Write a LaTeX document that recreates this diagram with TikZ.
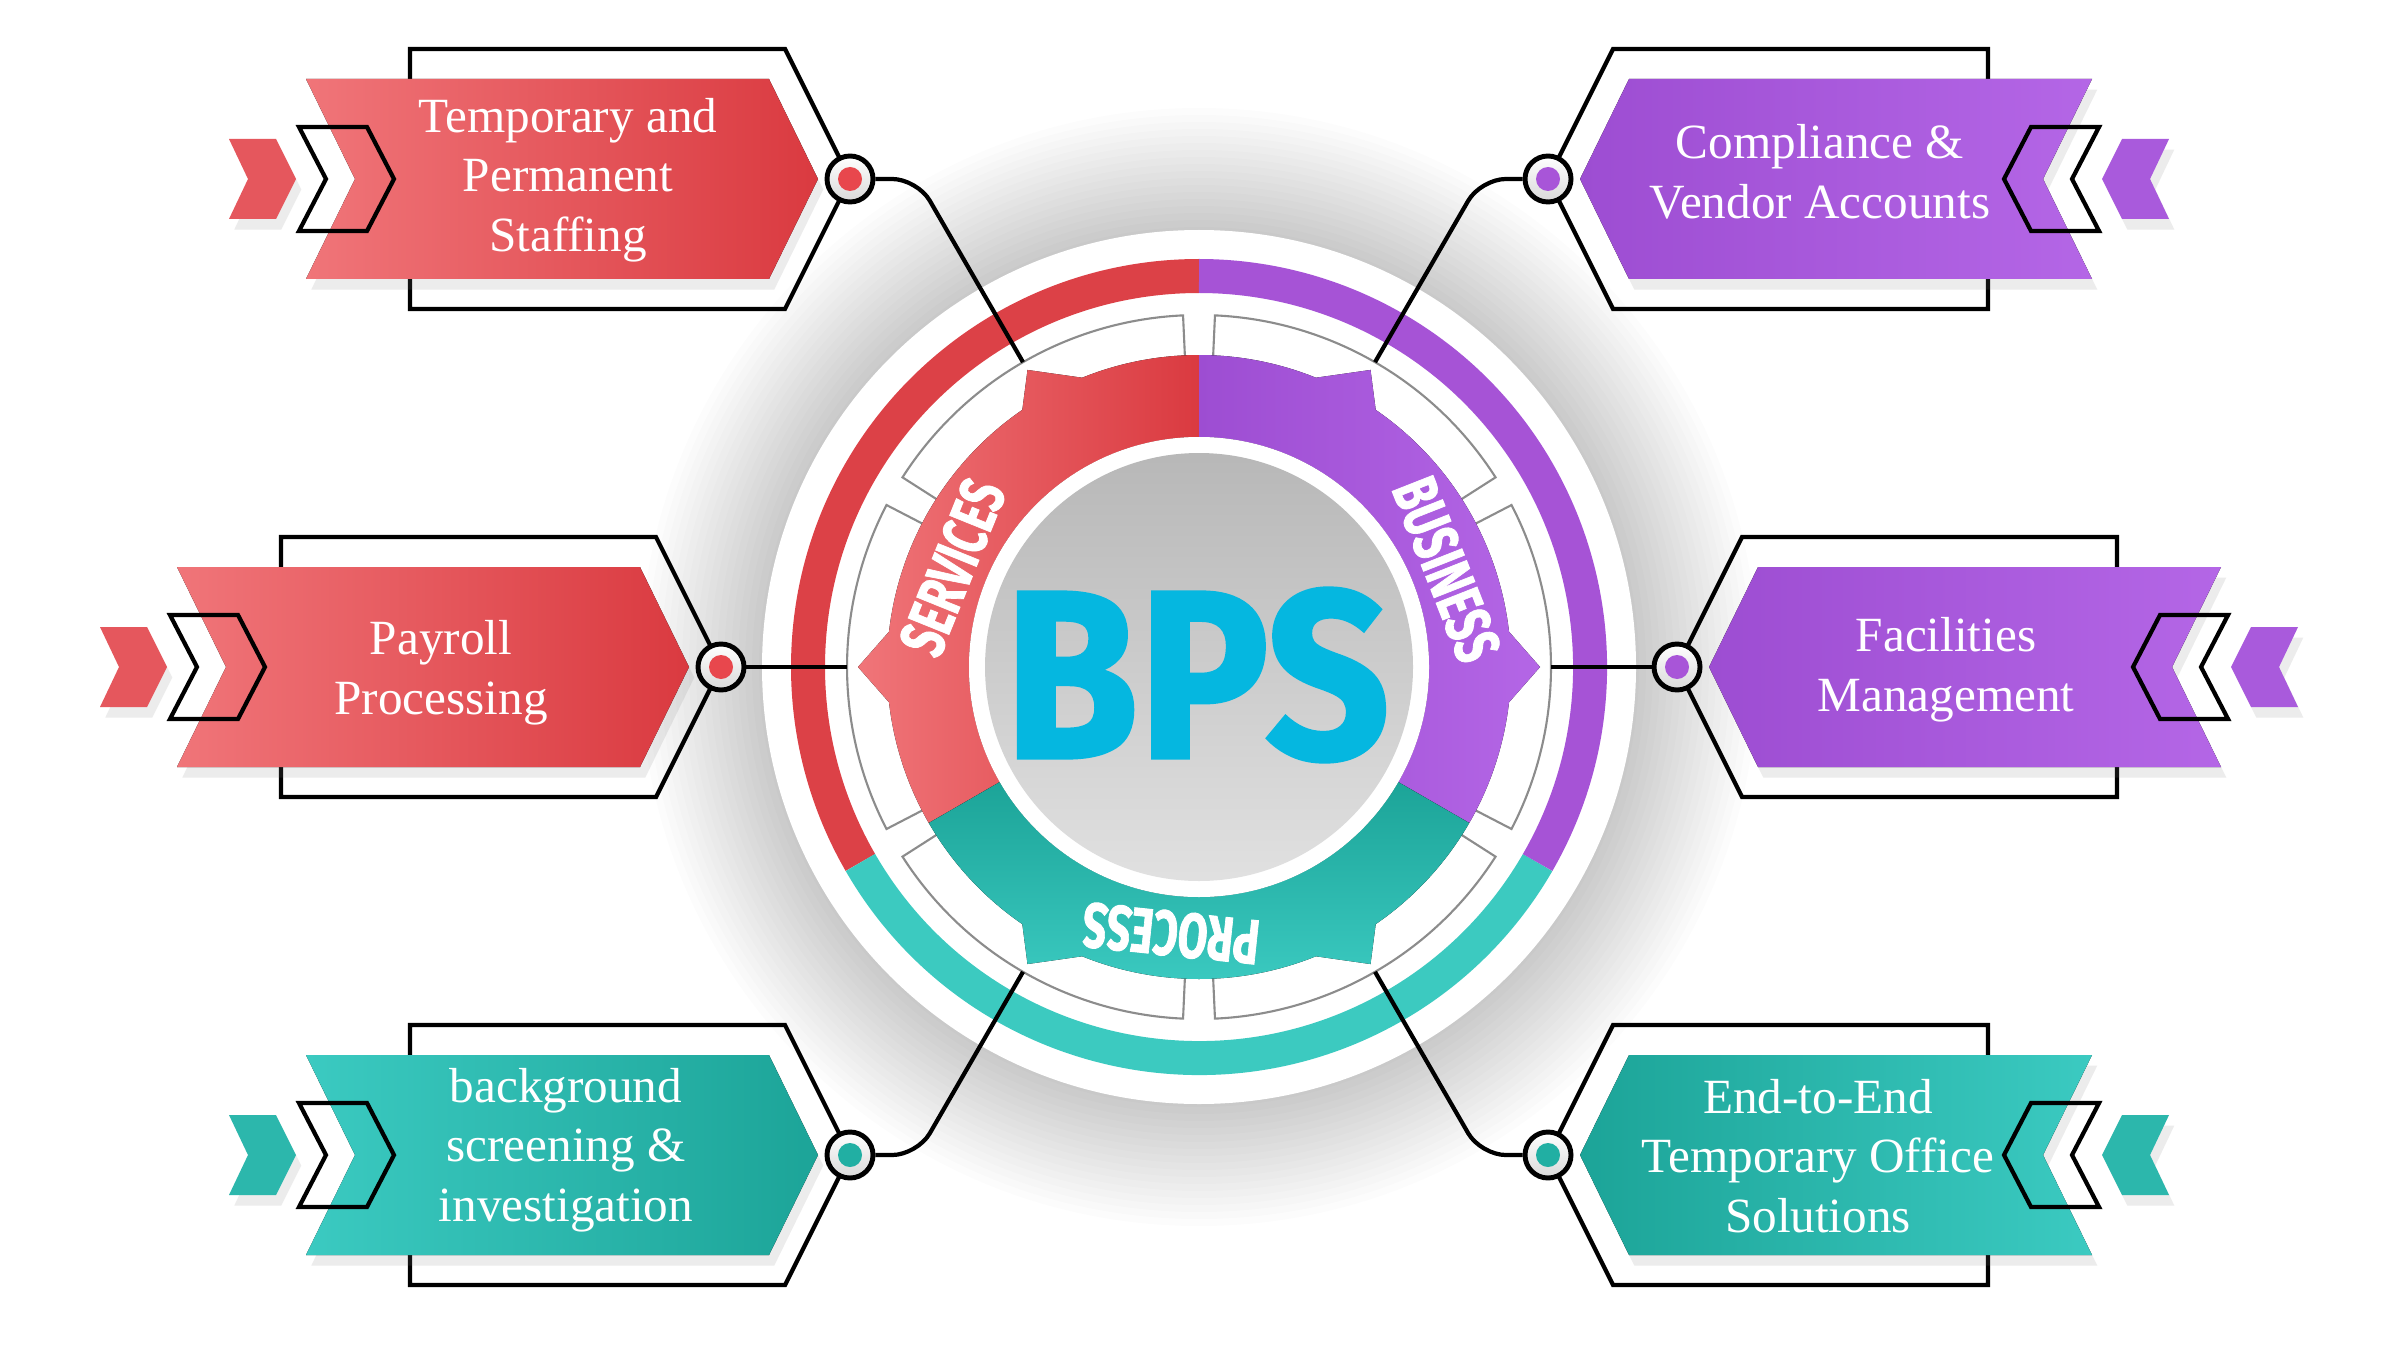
\documentclass[tikz,border=0pt]{standalone}
\usepackage{fontspec}
\setmainfont{Liberation Serif}
\newfontfamily\bpsfont{Fira Sans}[FakeBold=1.5]
\usetikzlibrary{calc, shadows}

\definecolor{redlt}{HTML}{F07579}
\definecolor{reddk}{HTML}{DA3A40}
\definecolor{reddot}{HTML}{E8474D}
\definecolor{redband}{HTML}{DC4147}
\definecolor{purlt}{HTML}{B466E6}
\definecolor{purdk}{HTML}{9D4DD2}
\definecolor{purdot}{HTML}{A855D8}
\definecolor{purband}{HTML}{A653D6}
\definecolor{teallt}{HTML}{3BCAC1}
\definecolor{tealdk}{HTML}{1CA498}
\definecolor{tealdot}{HTML}{21AFA3}
\definecolor{tealband}{HTML}{3CCAC0}
\definecolor{bpscyan}{HTML}{05B7E0}

\begin{document}
\begin{tikzpicture}
    \tikzset{frame/.style = {draw=black, line width=1.2pt, line join=miter}}
    \tikzset{link/.style = {draw=black, line width=1.2pt, rounded corners=0.25cm}}
    \tikzset{dot/.style = {circle, draw=black, line width=1.4pt, minimum size=0.46cm, inner sep=0pt,
        top color=white, bottom color=black!15,
        path picture={\fill[#1] (path picture bounding box.center) circle (0.12);}}}
    \tikzset{boxtext/.style = {text=white, align=center, font=\fontsize{14}{17}\selectfont}}
    \tikzset{ringtext/.style = {text=white, font=\bpsfont\bfseries\fontsize{18}{18}\selectfont, xscale=0.68}}
    \tikzset{seg/.style = {draw=black!45, line width=0.6pt, fill=white}}
    \tikzset{boxshadow/.style = {drop shadow={shadow xshift=1.5pt, shadow yshift=-3pt, opacity=0.15}}}

    \useasboundingbox (0,0) rectangle (24,13.5);
    \fill[white] (0,0) rectangle (24,13.5);
    \coordinate (c) at (11.99,6.83);

    % big circle
    \foreach \r in {4.40,4.47,...,5.60}
        \fill[black, opacity=0.013] (c) circle (\r);
    \fill[white] (c) circle (4.37);
    \draw[line width=3.4mm, redband] ($(c)+(90:3.91)$) arc[start angle=90, end angle=210, radius=3.91];
    \draw[line width=3.4mm, tealband] ($(c)+(210:3.91)$) arc[start angle=210, end angle=330, radius=3.91];
    \draw[line width=3.4mm, purband] ($(c)+(-30:3.91)$) arc[start angle=-30, end angle=90, radius=3.91];

    \foreach \a in {30,90,...,330}
        \draw[seg] ($(c)+(\a+2.6:2.95)$) -- ($(c)+(\a+2.6:3.52)$)
            arc[start angle=\a+2.6, end angle=\a+57.4, radius=3.52] -- ($(c)+(\a+57.4:2.95)$) -- cycle;

    % ring of arrows
    \fill[left color=redlt, right color=reddk] ($(c)+(90:3.12)$) arc[start angle=90, end angle=112, radius=3.12]
        -- ($(c)+(120:3.43)$) -- ($(c)+(124.5:3.12)$) arc[start angle=124.5, end angle=173.5, radius=3.12]
        -- ($(c)+(180:3.41)$) -- ($(c)+(186.5:3.12)$) arc[start angle=186.5, end angle=210, radius=3.12]
        -- ($(c)+(210:2.30)$) arc[start angle=210, end angle=90, radius=2.30] -- cycle;
    \fill[left color=purdk, right color=purlt] ($(c)+(-30:3.12)$) arc[start angle=-30, end angle=-6.5, radius=3.12]
        -- ($(c)+(0:3.41)$) -- ($(c)+(6.5:3.12)$) arc[start angle=6.5, end angle=55.5, radius=3.12]
        -- ($(c)+(60:3.43)$) -- ($(c)+(68:3.12)$) arc[start angle=68, end angle=90, radius=3.12]
        -- ($(c)+(90:2.30)$) arc[start angle=90, end angle=-30, radius=2.30] -- cycle;
    \fill[top color=tealdk, bottom color=teallt] ($(c)+(210:3.12)$) arc[start angle=210, end angle=235.5, radius=3.12]
        -- ($(c)+(240:3.43)$) -- ($(c)+(248:3.12)$) arc[start angle=248, end angle=292, radius=3.12]
        -- ($(c)+(300:3.43)$) -- ($(c)+(304.5:3.12)$) arc[start angle=304.5, end angle=330, radius=3.12]
        -- ($(c)+(330:2.30)$) arc[start angle=330, end angle=210, radius=2.30] -- cycle;

    \fill[white] (c) circle (2.30);
    \shade[top color=black!28, bottom color=black!12] (c) circle (2.14);

    \node[rotate=68, ringtext] (svc) at ($(c)+(158:2.66)$) {SERVICES};
    \node[rotate=-68.5, ringtext] (bus) at ($(c)+(21.5:2.66)$) {BUSINESS};
    \node[rotate=174, ringtext] (pro) at ($(c)+(264:2.68)$) {PROCESS};
    \node[text=bpscyan, font=\bpsfont\bfseries\fontsize{68}{68}\selectfont, xscale=0.91] (bps) at (11.97,6.75) {BPS};

    % boxes
    \foreach \n/\x/\y/\s/\lc/\rc/\col in {A/8.50/11.71/1/redlt/reddk/reddot, B/7.21/6.83/1/redlt/reddk/reddot,
        C/8.50/1.95/1/teallt/tealdk/tealdot, D/15.48/11.71/-1/purdk/purlt/purdot,
        E/16.77/6.83/-1/purdk/purlt/purdot, F/15.48/1.95/-1/tealdk/teallt/tealdot} {
        \begin{scope}[shift={(\x,\y)}, xscale=\s]
            \draw[frame] (-4.40,1.30) -- (-0.65,1.30) -- (0,0) -- (-0.65,-1.30) -- (-4.40,-1.30) -- cycle;
            \fill[boxshadow, left color=\lc, right color=\rc] (-5.44,1.00) -- (-0.81,1.00) -- (-0.32,0)
                -- (-0.81,-1.00) -- (-5.44,-1.00) -- (-4.95,0) -- cycle;
            \draw[frame] (-5.51,0.52) -- (-4.83,0.52) -- (-4.56,0) -- (-4.83,-0.52) -- (-5.51,-0.52) -- (-5.24,0) -- cycle;
            \fill[boxshadow, \lc!50!\rc] (-6.21,0.40) -- (-5.74,0.40) -- (-5.54,0) -- (-5.74,-0.40)
                -- (-6.21,-0.40) -- (-6.02,0) -- cycle;
        \end{scope}
        \node[dot=\col] (d\n) at (\x,\y) {};
    }

    % connectors
    \foreach \n/\a in {A/120, C/240, D/60, F/300} {
        \coordinate (k\n) at ($(c)+(\a:5.635)$);
        \coordinate (e\n) at ($(c)+(\a:3.52)$);
        \draw[link] (d\n) -- (k\n) -- (e\n);
    }
    \coordinate (eB) at ($(c)+(180:3.52)$);
    \coordinate (eE) at ($(c)+(0:3.52)$);
    \draw[link] (dB) -- (eB);
    \draw[link] (dE) -- (eE);

    \node[boxtext] (tA) at (5.68,11.70) {Temporary and\\Permanent\\Staffing};
    \node[boxtext] (tB) at (4.41,6.77) {Payroll\\Processing};
    \node[boxtext] (tC) at (5.66,2.00) {background\\screening \&\\investigation};
    \node[boxtext] (tD) at (18.20,11.78) {Compliance \&\\Vendor Accounts};
    \node[boxtext] (tE) at (19.46,6.80) {Facilities\\Management};
    \node[boxtext] (tF) at (18.18,1.94) {End-to-End\\Temporary Office\\Solutions};
\end{tikzpicture}
\end{document}
